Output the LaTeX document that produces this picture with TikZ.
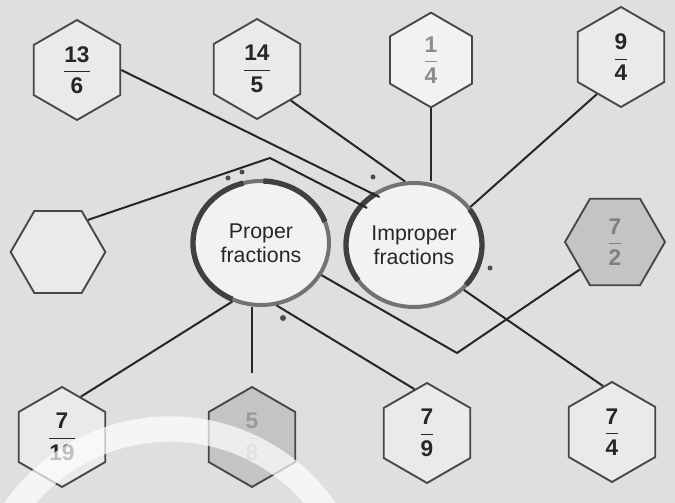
\documentclass[tikz,border=0pt]{standalone}
\usepackage{amsmath}
\usepackage{fontspec}
\setmainfont{Liberation Sans}
\usetikzlibrary{shapes.geometric,calc}
\definecolor{bg}{RGB}{221,223,225}
\definecolor{hexfill}{RGB}{234,234,232}
\definecolor{hexlight}{RGB}{242,242,241}
\definecolor{hexdark}{RGB}{196,196,194}
\definecolor{ringc}{RGB}{115,115,115}
\newcommand{\fr}[2]{$\dfrac{\textbf{#1}}{\textbf{#2}}$}
\begin{document}
\begin{tikzpicture}[x=0.75pt,y=0.75pt,
  hexbox/.style={shape=regular polygon, regular polygon sides=6, shape border rotate=30,
    minimum size=75pt, inner sep=0pt, draw=black!72, line width=1.4pt, fill=hexfill,
    font=\fontsize{17}{19}\selectfont, text=black!85},
  flathex/.style={hexbox, shape border rotate=0},
  ringnode/.style={ellipse, minimum width=102pt, minimum height=93pt, inner sep=0pt,
    draw=ringc, line width=3pt, fill=hexlight, align=center,
    font=\fontsize{16}{18}\selectfont, text=black!85},
  darkarc/.style={line width=4pt, black!75},
  conn/.style={line width=1.5pt, black!85},
  speck/.style={fill=black!70}]
\fill[bg] (0,0) rectangle (675,503);
\useasboundingbox (0,0) rectangle (675,503);
% circles
\node[ringnode] (prop) at (261,260) {Proper\\fractions};
\node[ringnode] (imp) at (414,258) {Improper\\fractions};
\draw[darkarc] ([shift={(105:68 and 62)}]prop.center) arc[start angle=105, end angle=245, x radius=68, y radius=62];
\draw[darkarc] ([shift={(20:68 and 62)}]prop.center) arc[start angle=20, end angle=88, x radius=68, y radius=62];
\draw[darkarc] ([shift={(125:68 and 62)}]imp.center) arc[start angle=125, end angle=215, x radius=68, y radius=62];
\draw[darkarc] ([shift={(35:68 and 62)}]imp.center) arc[start angle=35, end angle=-40, x radius=68, y radius=62];
% hexagons
\node[hexbox] (h1) at (77,433) {\fr{13}{6}};
\node[hexbox] (h2) at (257,434) {\fr{14}{5}};
\node[hexbox, minimum size=71pt, fill=hexlight, text=black!45] (h3) at (431,443) {\fr{1}{4}};
\node[hexbox] (h4) at (621,446) {\fr{9}{4}};
\node[flathex, minimum size=71pt] (h5) at (58,251) {};
\node[flathex, fill=hexdark, text=black!50] (h8) at (615,261) {\fr{7}{2}};
\node[hexbox] (h9) at (62,66) {\fr{7}{19}};
\node[hexbox, fill=hexdark, text=black!40] (h10) at (252,66) {\fr{5}{8}};
\node[hexbox] (h11) at (427,70) {\fr{7}{9}};
\node[hexbox] (h12) at (612,71) {\fr{7}{4}};
% bends
\coordinate (k1) at (270,345);
\coordinate (k2) at (457,150);
% connectors
\draw[conn, shorten >=-6pt] (h1.east) -- (imp.129);
\draw[conn] (h2.-43) -- (imp.98);
\draw[conn] (h3.south) -- (h3.south |- imp.north);
\draw[conn] (h4.-123) -- (imp.34);
\draw[conn, shorten >=-6pt] (h5.47) -- (k1) -- (imp.143);
\draw[conn] (prop.-116) -- (h9.65);
\draw[conn, shorten >=10pt] (h10.north |- prop.south) -- (h10.north);
\draw[conn] (prop.-76) -- (h11.106);
\draw[conn] (prop.-28) -- (k2) -- (h8.218);
\draw[conn] (imp.-42) -- (h12.101);
% specks
\fill[speck] (228,325) circle[radius=2.5];
\fill[speck] (242,331) circle[radius=2.5];
\fill[speck] (373,326) circle[radius=2.5];
\fill[speck] (490,235) circle[radius=2.5];
\fill[speck] (283,185) circle[radius=3];
% white arc overlay
\begin{scope}
\clip (0,0) rectangle (675,503);
\draw[white, opacity=0.7, line width=19pt] ([shift={(150:189)}]170,-115) arc[start angle=150, end angle=30, radius=189];
\end{scope}
\end{tikzpicture}
\end{document}
